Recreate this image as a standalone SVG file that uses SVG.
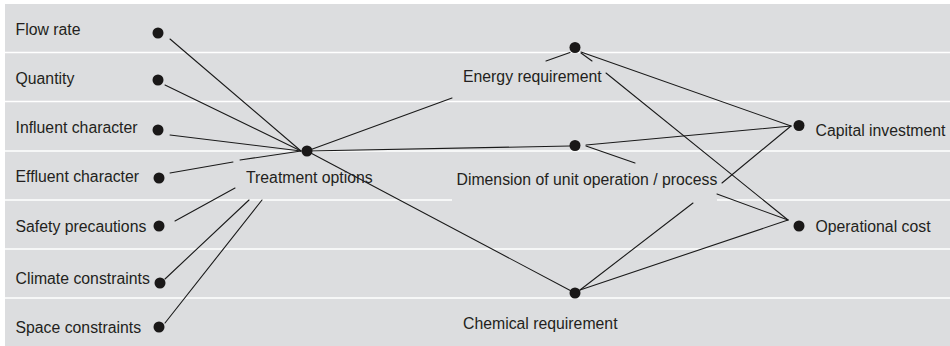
<svg xmlns="http://www.w3.org/2000/svg" width="950" height="346" viewBox="0 0 950 346">
<style>
.bg{fill:#dcdddf}
.sep{stroke:#ffffff;stroke-width:1.6;fill:none}
.c{stroke:#1a1a1a;stroke-width:1.1;fill:none;stroke-linecap:round}
.dot{fill:#1a1818}
text{font-family:"Liberation Sans",Arial,sans-serif;font-size:15.8px;fill:#231f20}
</style>
<rect class="bg" x="5" y="4" width="945" height="342"/>
<g id="separators">
<line class="sep" x1="5" y1="52.5" x2="950" y2="52.5"/>
<line class="sep" x1="5" y1="101.5" x2="950" y2="101.5"/>
<line class="sep" x1="5" y1="151" x2="950" y2="151"/>
<line class="sep" x1="5" y1="200" x2="452" y2="200"/>
<line class="sep" x1="717" y1="200" x2="950" y2="200"/>
<line class="sep" x1="5" y1="249" x2="950" y2="249"/>
<line class="sep" x1="5" y1="298" x2="950" y2="298"/>
</g>
<g id="connectors">
<path class="c" d="M170,39 L301,151"/>
<path class="c" d="M165,85 L301,151"/>
<path class="c" d="M170,135 L301,151"/>
<path class="c" d="M170,173 L233,162 M240,160 L301,151"/>
<path class="c" d="M175,221 L235,188"/>
<path class="c" d="M165,279 L249,200"/>
<path class="c" d="M165,323 L262,200"/>
<path class="c" d="M307,151 L452,98 M546,61 L570,52.5"/>
<path class="c" d="M307,151 L570,146"/>
<path class="c" d="M307,151 L575,293"/>
<path class="c" d="M581,52 L791,126"/>
<path class="c" d="M581,53 L592,61 M606,73 L788,220"/>
<path class="c" d="M586,145 L791,126"/>
<path class="c" d="M586,146 L635,163 M717,194 L788,220"/>
<path class="c" d="M580,290 L693,203 M722,183 L791,126"/>
<path class="c" d="M580,290 L788,220"/>
</g>
<g id="flow-rate"><circle class="dot" cx="158" cy="33" r="5.5"/><text x="15.5" y="34.5">Flow rate</text></g>
<g id="quantity"><circle class="dot" cx="158" cy="80" r="5.5"/><text x="15.5" y="83.5">Quantity</text></g>
<g id="influent-character"><circle class="dot" cx="158" cy="130" r="5.5"/><text x="15.5" y="133">Influent character</text></g>
<g id="effluent-character"><circle class="dot" cx="159" cy="178" r="5.5"/><text x="15.5" y="182">Effluent character</text></g>
<g id="safety-precautions"><circle class="dot" cx="159" cy="226" r="5.5"/><text x="15.5" y="231.5">Safety precautions</text></g>
<g id="climate-constraints"><circle class="dot" cx="160" cy="283" r="5.5"/><text x="15.5" y="284">Climate constraints</text></g>
<g id="space-constraints"><circle class="dot" cx="159" cy="327" r="5.5"/><text x="15.5" y="333">Space constraints</text></g>
<g id="treatment-options"><circle class="dot" cx="307" cy="151" r="5.5"/><text x="246" y="182.5">Treatment options</text></g>
<g id="energy-requirement"><circle class="dot" cx="575" cy="47.5" r="5.5"/><text x="463" y="82">Energy requirement</text></g>
<g id="dimension"><circle class="dot" cx="575" cy="145.5" r="5.5"/><text x="456.5" y="184.5">Dimension of unit operation / process</text></g>
<g id="chemical-requirement"><circle class="dot" cx="575" cy="293" r="5.5"/><text x="463" y="329">Chemical requirement</text></g>
<g id="capital-investment"><circle class="dot" cx="799" cy="125.5" r="5.5"/><text x="815.5" y="135.5">Capital investment</text></g>
<g id="operational-cost"><circle class="dot" cx="799" cy="226" r="5.5"/><text x="815.5" y="231.5">Operational cost</text></g>
</svg>
